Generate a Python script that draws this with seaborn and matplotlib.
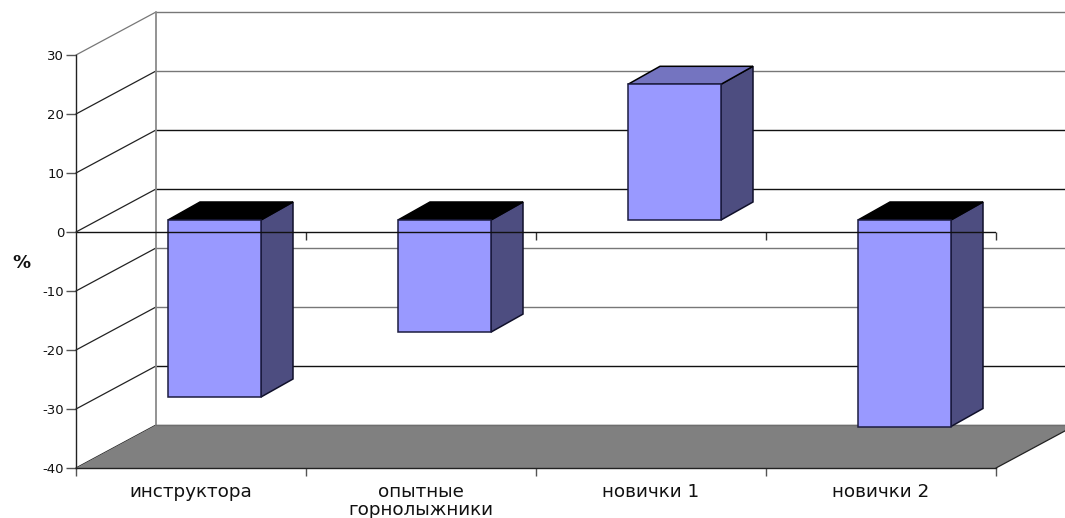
import numpy as np
import pandas as pd
import seaborn as sns
import matplotlib.pyplot as plt
from matplotlib.transforms import Affine2D

# -------------------------------
# Data
# -------------------------------
categories = ['инструктора', 'опытные\nгорнолыжники', 'новички 1', 'новички 2']
values = [-30, -19, 23, -35]
y_ticks = [-40, -30, -20, -10, 0, 10, 20, 30]

sns.set_style('white')
# the reference text is stretched wide, DejaVu has about the same proportions
plt.rcParams['font.family'] = ['DejaVu Sans']
plt.rcParams['axes.unicode_minus'] = False

W, H = 1065, 518
fig = plt.figure(figsize=(W / 100, H / 100), dpi=100)
ax = fig.add_axes([76 / W, (H - 468) / H, 920 / W, 413 / H])

df = pd.DataFrame({'group': categories, 'value': values})

# pixel sizes turned into data units
ux = 230.0
uy = 5.9
wall_dx, wall_dy = 80 / ux, 43 / uy
bar_dx, bar_dy = 23.5 / ux, 12 / uy
side_dx, side_dy = 32 / ux, 18 / uy

# -------------------------------
# Bars (front faces)
# -------------------------------
sns.barplot(data=df, x='group', y='value', color='#9999FF', saturation=1,
            width=93 / ux, edgecolor='#1c1c40', linewidth=1.1, ax=ax, zorder=5)
ax.set_xlim(-0.5, 3.5)
ax.set_ylim(-40, 30)
shift = Affine2D().translate(bar_dx, bar_dy) + ax.transData

for p, v in zip(ax.patches, values):
    p.set_transform(shift)
    p.set_clip_on(False)
    x0, x1 = p.get_x(), p.get_x() + p.get_width()
    top = max(v, 0)
    bottom = min(v, 0)
    # right side
    ax.fill([x1, x1 + side_dx, x1 + side_dx, x1],
            [top, top + side_dy, bottom + side_dy, bottom],
            facecolor='#4D4D80', edgecolor='#10102a', linewidth=1.1,
            transform=shift, clip_on=False, zorder=4)
    # top, black when the bar hangs down from zero
    top_col = '#000000' if v < 0 else '#7474C0'
    ax.fill([x0, x0 + side_dx, x1 + side_dx, x1],
            [top, top + side_dy, top + side_dy, top],
            facecolor=top_col, edgecolor='#000000', linewidth=1.1,
            transform=shift, clip_on=False, zorder=4)

# -------------------------------
# Walls and floor
# -------------------------------
right = 3.5
for y in y_ticks:
    col = '#111111' if y in (10, 0, -30) else '#777777'
    ax.plot([-0.5 + wall_dx, right + wall_dx], [y + wall_dy, y + wall_dy],
            color=col, lw=1.0, clip_on=False, zorder=1)
    col = '#777777' if y == 30 else '#222222'
    ax.plot([-0.5, -0.5 + wall_dx], [y, y + wall_dy],
            color=col, lw=0.9, clip_on=False, zorder=1)
ax.plot([-0.5 + wall_dx, -0.5 + wall_dx], [-40 + wall_dy, 30 + wall_dy],
        color='#8a8a8a', lw=1.3, clip_on=False, zorder=1)

ax.fill([-0.5, right, right + wall_dx, -0.5 + wall_dx],
        [-40, -40, -40 + wall_dy, -40 + wall_dy],
        facecolor='#808080', edgecolor='none', clip_on=False, zorder=2)
ax.plot([-0.5 + wall_dx, right + wall_dx], [-40 + wall_dy, -40 + wall_dy],
        color='#6e6e6e', lw=1.0, clip_on=False, zorder=2)
ax.plot([right, right + wall_dx], [-40, -40 + wall_dy],
        color='#222222', lw=0.9, clip_on=False, zorder=2)

# -------------------------------
# Zero axis
# -------------------------------
ax.axhline(0, color='#111111', lw=1.0, zorder=6)
edges = np.arange(-0.5, 4, 1)
ax.vlines(edges[1:], -8 / uy, 0, color='#333333', lw=1.0, zorder=3, clip_on=False)

# -------------------------------
# Axes, ticks, labels
# -------------------------------
sns.despine(ax=ax, top=True, right=True)
for s in ('left', 'bottom'):
    ax.spines[s].set_color('#222222')
    ax.spines[s].set_linewidth(1.0)
    ax.spines[s].set_zorder(7)

ax.set_yticks(y_ticks)
ax.tick_params(axis='y', left=True, length=7, width=1.0, color='#555555',
               labelsize=9.5, pad=1.5, labelcolor='#111111')
ax.set_xticks(edges)
ax.set_xticklabels([])
ax.set_xticks(range(4), categories, minor=True)
ax.tick_params(axis='x', which='major', bottom=True, length=6, width=1.0, color='#555555')
ax.tick_params(axis='x', which='minor', bottom=False, length=0,
               labelsize=13.2, pad=11, labelcolor='#111111')
for t in ax.get_xticklabels(minor=True):
    t.set_linespacing(1.0)
ax.set_xlabel('')
ax.set_ylabel('')
fig.text(21 / W, 1 - 263 / H, '%', fontsize=13, fontweight='bold',
         ha='center', va='center', color='#111111')

fig.savefig('out.png', dpi=100)
